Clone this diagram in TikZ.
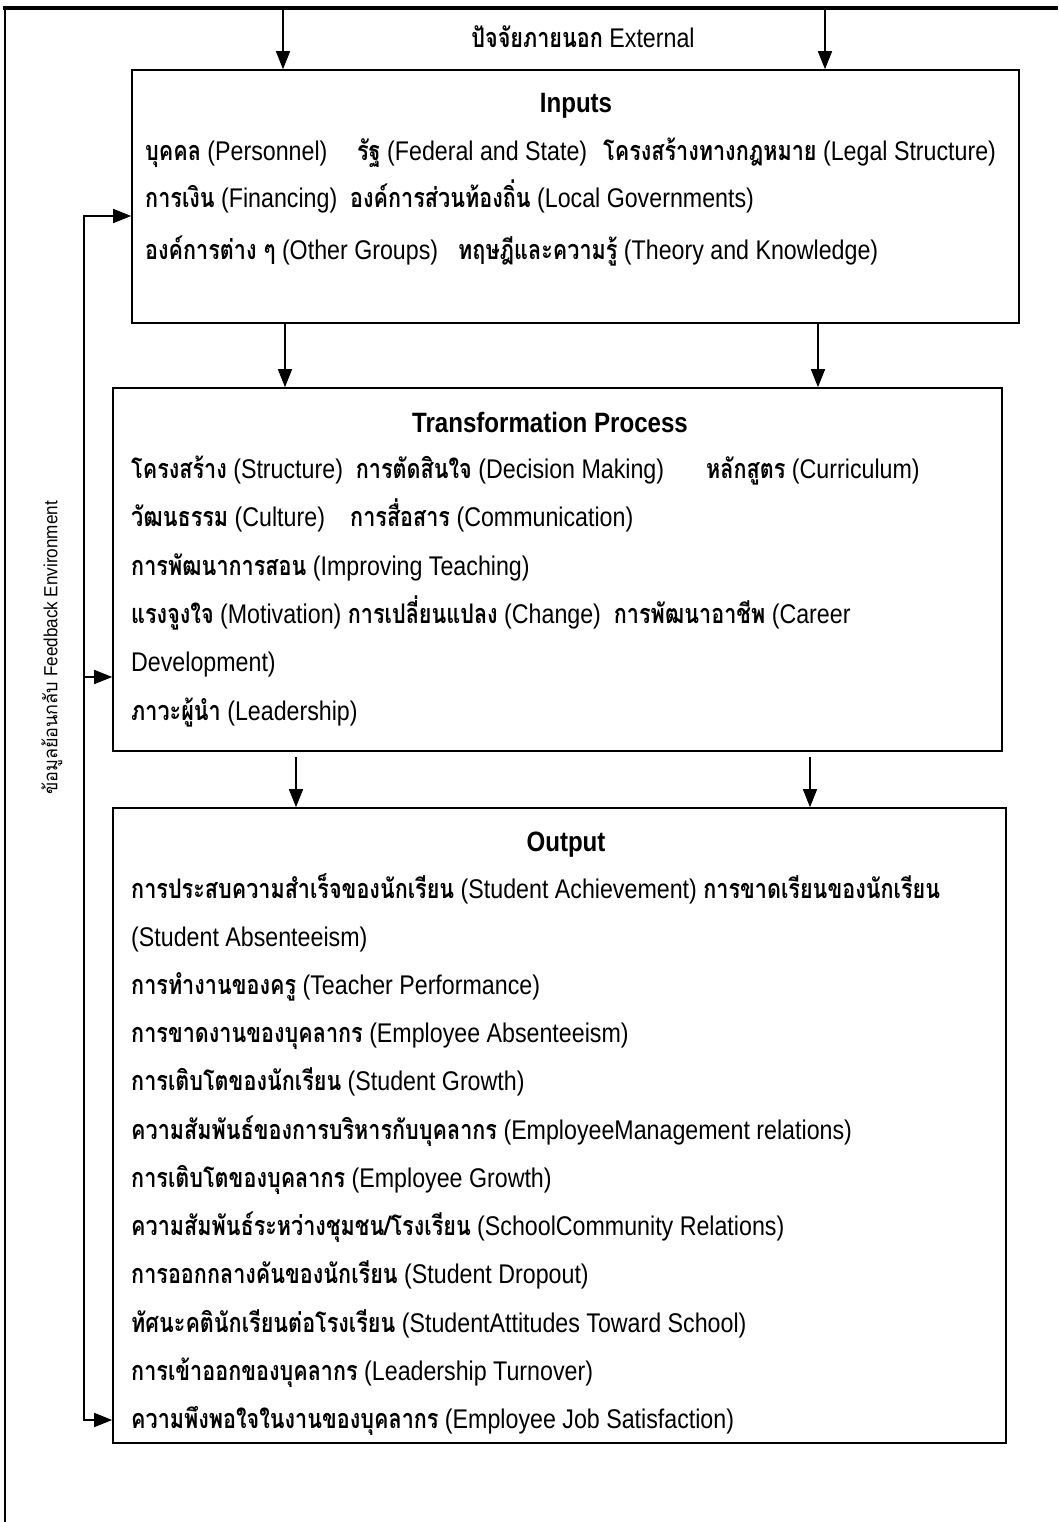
\documentclass[tikz,border=0pt]{standalone}
\usepackage{fontspec}
\setmainfont{Liberation Sans}[FakeStretch=0.86]
\newfontfamily\thaifont[Script=Thai,FakeStretch=0.8]{Loma}
\newfontfamily\sidefont{Liberation Sans}[FakeStretch=0.9]
\newfontfamily\sidethai[Script=Thai,FakeStretch=0.95]{Loma}
\newcommand{\tht}[1]{{\thaifont\bfseries #1}}
\usetikzlibrary{arrows.meta, positioning}

\begin{document}
\begin{tikzpicture}[x=10pt,y=10pt]
\tikzstyle{every node}+=[inner sep=0pt]
\tikzset{
  box/.style={draw, line width=1.6pt},
  txt/.style={anchor=base west, font=\fontsize{27}{30}\selectfont},
  ttl/.style={anchor=base, font=\fontsize{28}{30}\selectfont\bfseries},
  arr/.style={-{Triangle[length=18pt,width=14pt]}, line width=1.5pt}
}
\useasboundingbox (0,0) rectangle (105.8,-152.2);
% outer frame
\draw [line width=3.5pt] (0.3,-0.8) -- (105.8,-0.8);
\draw [line width=2pt] (0.5,-0.6) -- (0.5,-152.2);
% boxes
\node [box, minimum width=887pt, minimum height=253pt] (inputs) at (57.55,-19.65) {};
\node [box, minimum width=889pt, minimum height=363pt] (trans) at (55.75,-56.95) {};
\node [box, minimum width=893pt, minimum height=635pt] (output) at (55.95,-112.55) {};
% external
\node [ttl, font=\fontsize{27}{30}\selectfont] (ext) at (58.3,-4.8) {\tht{ปัจจัยภายนอก} External};
\coordinate (e1) at (28.3,-0.8);
\coordinate (e2) at (82.5,-0.8);
\draw [arr] (e1) -- (inputs.north -| e1);
\draw [arr] (e2) -- (inputs.north -| e2);
% inputs
\node [ttl] (inT) at (57.6,-11.3) {Inputs};
\node [txt] (in1a) at (14.5,-16.1) {\tht{บุคคล} (Personnel)};
\node [txt] (in1b) at (35.7,-16.1) {\tht{รัฐ} (Federal and State)};
\node [txt] (in1c) at (60.3,-16.1) {\tht{โครงสร้างทางกฎหมาย} (Legal Structure)};
\node [txt] (in2a) at (14.5,-20.8) {\tht{การเงิน} (Financing)\ \ \tht{องค์การส่วนท้องถิ่น} (Local Governments)};
\node [txt] (in3a) at (14.5,-25.9) {\tht{องค์การต่าง ๆ} (Other Groups)};
\node [txt] (in3b) at (45.8,-25.9) {\tht{ทฤษฎีและความรู้} (Theory and Knowledge)};
\coordinate (p1) at (28.5,0);
\coordinate (p2) at (81.8,0);
\draw [arr] (inputs.south -| p1) -- (trans.north -| p1);
\draw [arr] (inputs.south -| p2) -- (trans.north -| p2);
% transformation process
\node [ttl] (trT) at (55.0,-43.2) {Transformation Process};
\node [txt] (tr1a) at (13.1,-47.8) {\tht{โครงสร้าง} (Structure)\ \ \tht{การตัดสินใจ} (Decision Making)};
\node [txt] (tr1c) at (70.6,-47.8) {\tht{หลักสูตร} (Curriculum)};
\node [txt] (tr2a) at (13.1,-52.6) {\tht{วัฒนธรรม} (Culture)};
\node [txt] (tr2b) at (35.0,-52.6) {\tht{การสื่อสาร} (Communication)};
\node [txt] (tr3) at (13.1,-57.5) {\tht{การพัฒนาการสอน} (Improving Teaching)};
\node [txt] (tr4) at (13.1,-62.3) {\tht{แรงจูงใจ} (Motivation) \tht{การเปลี่ยนแปลง} (Change)\ \ \tht{การพัฒนาอาชีพ} (Career};
\node [txt] (tr5) at (13.1,-67.1) {Development)};
\node [txt] (tr6) at (13.1,-72.0) {\tht{ภาวะผู้นำ} (Leadership)};
\coordinate (q1) at (29.6,0);
\coordinate (q2) at (81.0,0);
\draw [arr, shorten <=5pt] (trans.south -| q1) -- (output.north -| q1);
\draw [arr, shorten <=5pt] (trans.south -| q2) -- (output.north -| q2);
% output
\node [ttl] (outT) at (56.6,-85.1) {Output};
\node [txt] (out1) at (13.1,-89.8) {\tht{การประสบความสำเร็จของนักเรียน} (Student Achievement) \tht{การขาดเรียนของนักเรียน}};
\node [txt] (out2) at (13.1,-94.6) {(Student Absenteeism)};
\node [txt] (out3) at (13.1,-99.4) {\tht{การทำงานของครู} (Teacher Performance)};
\node [txt] (out4) at (13.1,-104.2) {\tht{การขาดงานของบุคลากร} (Employee Absenteeism)};
\node [txt] (out5) at (13.1,-109.0) {\tht{การเติบโตของนักเรียน} (Student Growth)};
\node [txt] (out6) at (13.1,-113.9) {\tht{ความสัมพันธ์ของการบริหารกับบุคลากร} (EmployeeManagement relations)};
\node [txt] (out7) at (13.1,-118.7) {\tht{การเติบโตของบุคลากร} (Employee Growth)};
\node [txt] (out8) at (13.1,-123.5) {\tht{ความสัมพันธ์ระหว่างชุมชน/โรงเรียน} (SchoolCommunity Relations)};
\node [txt] (out9) at (13.1,-128.3) {\tht{การออกกลางคันของนักเรียน} (Student Dropout)};
\node [txt] (out10) at (13.1,-133.2) {\tht{ทัศนะคตินักเรียนต่อโรงเรียน} (StudentAttitudes Toward School)};
\node [txt] (out11) at (13.1,-138.0) {\tht{การเข้าออกของบุคลากร} (Leadership Turnover)};
\node [txt] (out12) at (13.1,-142.8) {\tht{ความพึงพอใจในงานของบุคลากร} (Employee Job Satisfaction)};
% feedback
\coordinate (fbtop) at (8.4,-21.6);
\coordinate (fbmid) at (8.4,-67.7);
\coordinate (fbbot) at (8.4,-142.0);
\draw [arr] (fbmid) -- (fbtop) -- (inputs.west |- fbtop);
\draw [arr] (fbmid) -- (fbbot) -- (output.west |- fbbot);
\draw [arr] (fbmid) -- (trans.west |- fbmid);
\node [rotate=90, font=\sidefont\fontsize{19}{22}\selectfont] (fb) at (5.2,-64.8) {{\sidethai ข้อมูลย้อนกลับ} Feedback Environment};
\end{tikzpicture}
\end{document}
